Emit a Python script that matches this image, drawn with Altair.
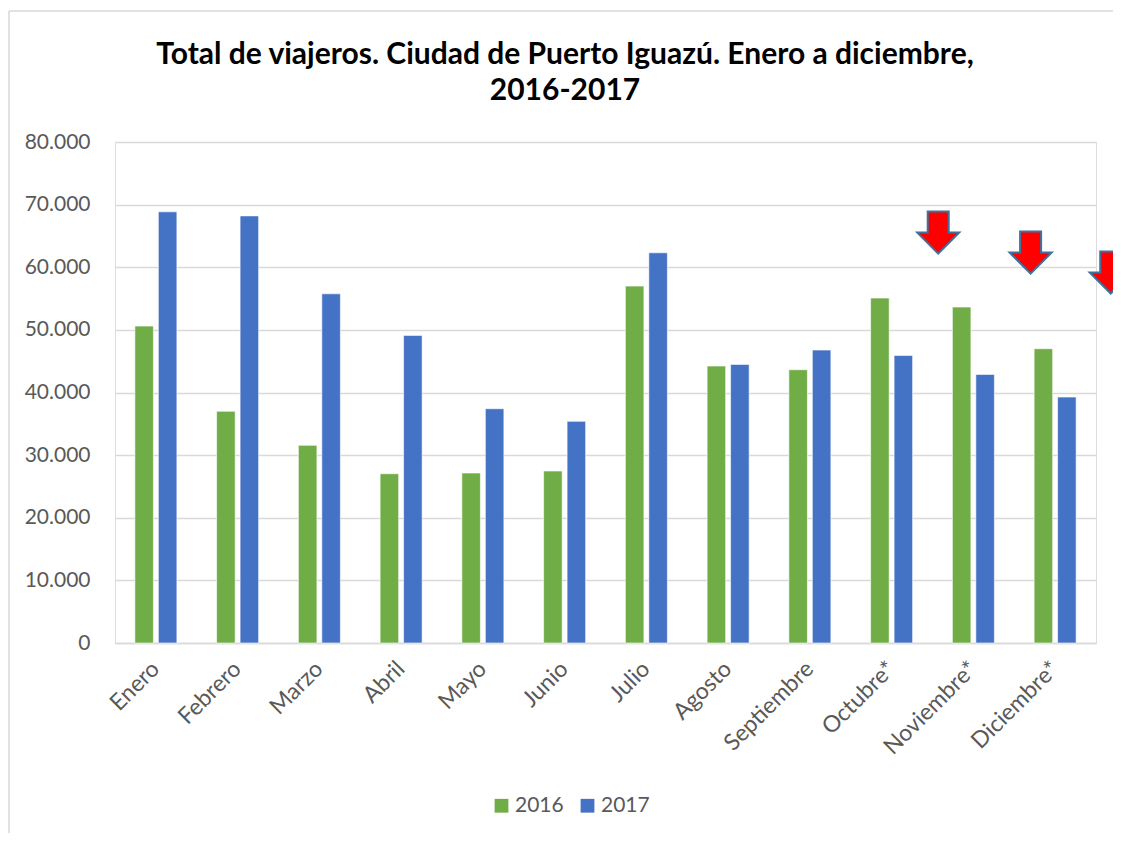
import altair as alt
import pandas as pd

months = ["Enero", "Febrero", "Marzo", "Abril", "Mayo", "Junio", "Julio",
          "Agosto", "Septiembre", "Octubre*", "Noviembre*", "Diciembre*"]
v2016 = [50600, 37000, 31560, 27030, 27140, 27460, 56990, 44220, 43640, 55080, 53640, 46990]
v2017 = [68850, 68200, 55760, 49120, 37410, 35390, 62310, 44490, 46780, 45920, 42890, 39270]
years = ["2016", "2017"]
colors = ["#70AD47", "#4472C4"]
title_lines = ["Total de viajeros. Ciudad de Puerto Iguazú. Enero a diciembre,", "2016-2017"]

# decorative red arrows (position in month units, value units)
arrow_pos = [10.07, 11.2, 12.18]
arrow_val = [65530, 62340, 59150]

rows = []
for m, a, b in zip(months, v2016, v2017):
    rows.append({"mes": m, "anio": "2016", "viajeros": a})
    rows.append({"mes": m, "anio": "2017", "viajeros": b})
df = pd.DataFrame(rows)
arrows = pd.DataFrame({"pos": arrow_pos, "val": arrow_val})

FONT = "Lato"
LABEL = "#595959"
W, H = 981, 501

yscale = alt.Scale(domain=[0, 80000], nice=False)

bars = alt.Chart(df).mark_bar(stroke="white", strokeWidth=0.6).encode(
    x=alt.X("mes:N", sort=months, title=None,
            scale=alt.Scale(paddingInner=0.486, paddingOuter=0.243),
            axis=alt.Axis(labelAngle=-45, labelAlign="right", labelBaseline="middle",
                          labelFontSize=23, labelColor=LABEL, labelFont=FONT,
                          labelPadding=22, ticks=False, domainColor="#D9D9D9",
                          domainWidth=1.5, grid=False)),
    xOffset=alt.XOffset("anio:N", scale=alt.Scale(paddingInner=0.21)),
    y=alt.Y("viajeros:Q", scale=yscale, title=None,
            axis=alt.Axis(values=list(range(0, 80001, 10000)), tickCount=9,
                          labelExpr="replace(format(datum.value, ','), ',', '.')",
                          labelFontSize=21, labelColor=LABEL, labelFont=FONT,
                          labelPadding=25, ticks=False, domain=False,
                          gridColor="#D9D9D9", gridWidth=1.5)),
    color=alt.Color("anio:N", scale=alt.Scale(domain=years, range=colors),
                    legend=alt.Legend(title=None, orient="none", direction="horizontal",
                                      legendX=376, legendY=653, symbolType="square",
                                      symbolSize=190, symbolStrokeWidth=0,
                                      labelFontSize=21, labelColor=LABEL, labelFont=FONT,
                                      columnPadding=13, labelOffset=3, padding=0)),
)

arrow_path = "M-0.5,-1 L0.5,-1 L0.5,0 L1,0 L0,1 L-1,0 L-0.5,0 Z"
arrow_layer = alt.Chart(arrows).mark_point(
    shape=arrow_path, filled=True, fill="#FF0000", stroke="#41719C",
    strokeWidth=2, size=1764, opacity=1
).encode(
    x=alt.X("pos:Q", scale=alt.Scale(domain=[0, 12], nice=False, zero=False), axis=None),
    y=alt.Y("val:Q", scale=yscale),
)

one = pd.DataFrame({"a": [0]})
border_top = alt.Chart(one).mark_rule(color="#D9D9D9", strokeWidth=1.5).encode(
    x=alt.value(-106), x2=alt.value(1010), y=alt.value(-131))
border_left = alt.Chart(one).mark_rule(color="#D9D9D9", strokeWidth=1.5).encode(
    x=alt.value(-106), y=alt.value(-131), y2=alt.value(700))

title1 = alt.Chart(one).mark_text(
    font=FONT, fontSize=30, fontWeight="bold", color="#000000",
    align="center", baseline="alphabetic"
).encode(x=alt.value(450), y=alt.value(-78), text=alt.value(title_lines[0]))
title2 = alt.Chart(one).mark_text(
    font=FONT, fontSize=30, fontWeight="bold", color="#000000",
    align="center", baseline="alphabetic"
).encode(x=alt.value(450), y=alt.value(-42), text=alt.value(title_lines[1]))

chart = alt.layer(border_top, border_left, title1, title2, bars, arrow_layer).resolve_scale(
    x="independent"
).properties(
    width=W, height=H,
    autosize=alt.AutoSizeParams(type="none"),
    padding={"left": 107, "top": 134, "right": 17, "bottom": 190},
).configure_view(stroke=None).configure(background="white")

chart.save("out.html", embed_options={"renderer": "svg", "actions": False})
